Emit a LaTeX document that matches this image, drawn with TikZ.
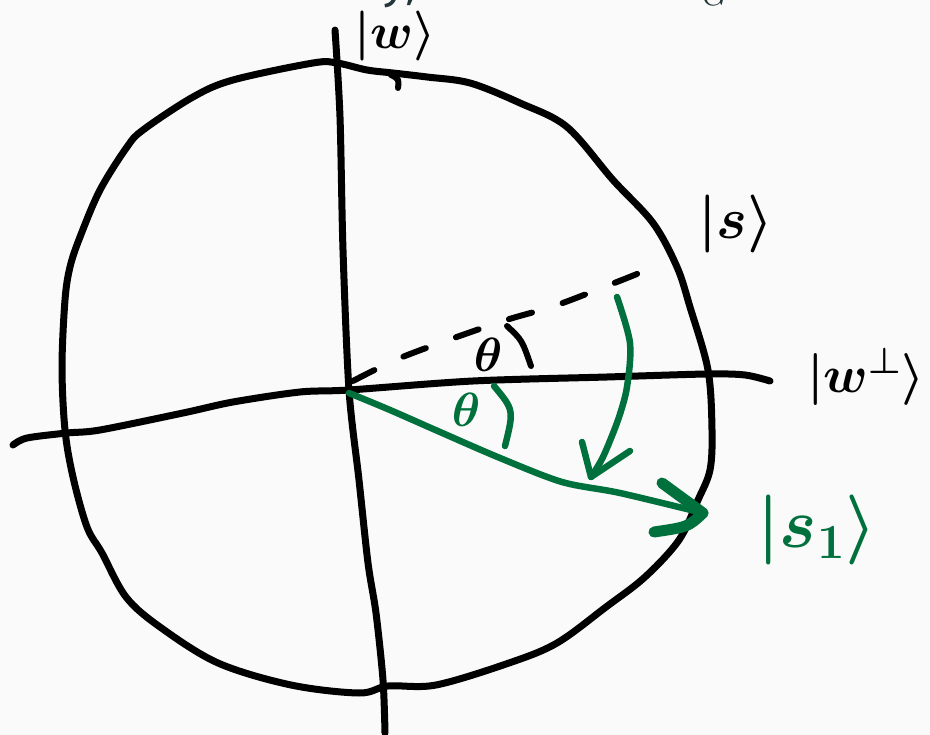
\RequirePackage{fix-cm}
\documentclass[tikz,border=0pt]{standalone}
\usepackage{fontspec}
\setsansfont{Fira Sans}
\usepackage{amsmath}
\definecolor{bg}{HTML}{FAFAFA}
\definecolor{ink}{HTML}{00703C}
\definecolor{slate}{HTML}{23373B}
\begin{document}
\begin{tikzpicture}[x=1pt,y=-1pt,
  penline/.style={line width=7pt, line cap=round, line join=round},
  greenline/.style={line width=6.5pt, color=ink, line cap=round, line join=round},
  lab/.style={inner sep=0pt, font=\fontsize{48}{50}\selectfont\boldmath},
]
\useasboundingbox (0,0) rectangle (930,735);
\fill[bg] (0,0) rectangle (930,735);
\clip (0,0) rectangle (930,735);
% title (cut off at top)
\node[anchor=base west, text=slate, inner sep=0pt, font=\sffamily\fontsize{49}{56}\selectfont] (title) at (100,-2) {Geometrically, the oracle $O_G$ reflects};
% key points
\coordinate (O) at (349,390);
\coordinate (Send) at (652,268);
\coordinate (S1) at (703,513);
% circle
\draw[penline] plot[smooth cycle, tension=0.55] coordinates {
 (313,63) (337,63) (367,70) (393,73) (427,77) (470,83) (520,103) (567,127)
 (613,180) (653,223) (677,267) (690,307) (708,370) (712,430) (710,470)
 (698,500) (679,540) (645,577) (606,607) (557,643) (509,663) (436,685)
 (388,686) (359,693) (291,685) (218,663) (160,627) (126,597) (102,553)
 (87,527) (73,477) (65,430) (62,367) (65,300) (70,267) (80,237) (100,190)
 (127,147) (143,130) (193,97) (233,80)};
\draw[penline, line width=6pt] (391,75) .. controls (399,79) .. (398,88);
% axes
\draw[penline] plot[smooth] coordinates {(335,30) (340,117) (343,250) (O) (359,480) (368,563) (376,613) (383,680) (385,733)};
\draw[penline] plot[smooth] coordinates {(13,445) (27,438) (67,433) (100,430) (183,413) (233,402) (300,392) (O) (473,381) (607,377) (707,374) (745,375) (770,381)};
% dashed |s>
\draw[penline, line width=6pt, dash pattern=on 24pt off 32pt] plot[smooth] coordinates {(353,381) (405,356) (500,322) (560,304) (Send)};
% labels
\node[lab, font=\fontsize{50}{52}\selectfont\boldmath] (wlab) at (395,36) {$\lvert w\rangle$};
\node[lab, font=\fontsize{58}{60}\selectfont\boldmath] (slab) at (736,224) {$\lvert s\rangle$};
\node[lab, font=\fontsize{52}{54}\selectfont\boldmath] (wplab) at (866,377) {$\lvert w^{\perp}\rangle$};
\node[lab, text=ink, font=\fontsize{70}{72}\selectfont\boldmath] (s1lab) at (817,530) {$\lvert s_1\rangle$};
\node[lab] (th1) at (488,355) {$\theta$};
\node[lab, text=ink] (th2) at (466,410) {$\theta$};
% angle marks
\draw[penline, line width=6pt] (507,326) .. controls (522,340) .. (531,366);
\draw[greenline] (494,386) .. controls (514,410) .. (505,446);
% green vector |s1>
\draw[greenline] plot[smooth] coordinates {(349,393) (390,410) (440,432) (500,458) (562,482) (620,493) (S1)};
\draw[greenline, line width=11pt] (662,483) -- (S1);
\draw[greenline, line width=11pt] (S1) .. controls (688,527) .. (654,532);
% curved reflection arrow
\draw[greenline] plot[smooth] coordinates {(617,297) (630,343) (627,387) (618,420) (603,457) (591,477)};
\draw[greenline] (582,442) -- (591,477) -- (630,451);
\end{tikzpicture}
\end{document}
